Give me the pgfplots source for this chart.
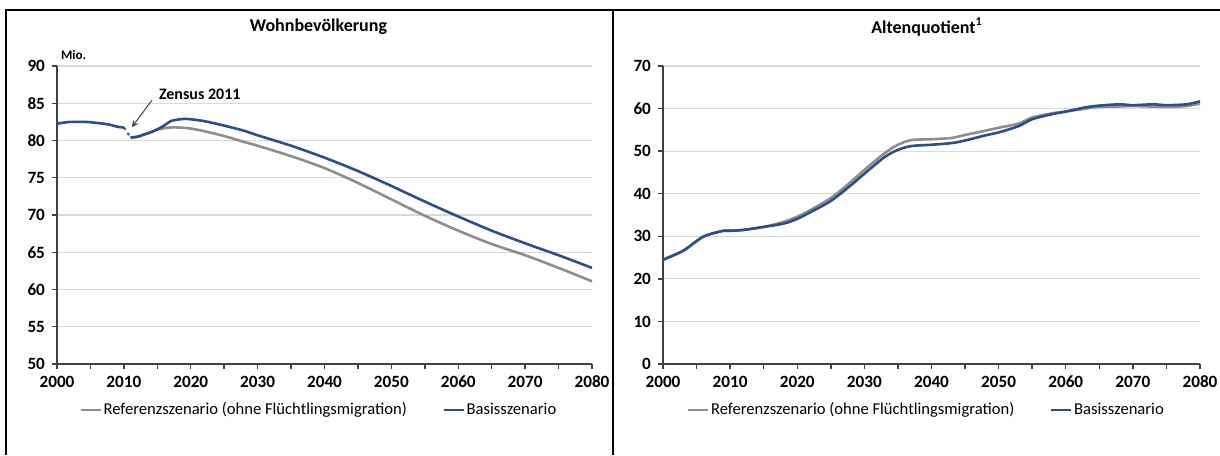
\documentclass[border=0pt]{standalone}
\usepackage{fontspec}
\setmainfont{Carlito}
\usepackage{pgfplots}
\pgfplotsset{compat=1.18}
\definecolor{basis}{HTML}{2A4F8A}
\definecolor{refgray}{HTML}{8E8E8E}
\definecolor{gridgray}{HTML}{D9D9D9}
\definecolor{axgray}{HTML}{404040}

\pgfplotsset{panel/.style={
  scale only axis, width=267.5pt, height=149pt,
  axis x line*=bottom, axis y line*=left,
  axis line style={axgray, line width=0.7pt},
  xmin=2000, xmax=2080,
  xtick={2000,2010,...,2080}, minor xtick={2005,2015,...,2075},
  tick align=outside, tick style={axgray, line width=0.7pt},
  major tick length=2.5pt, minor tick length=2.5pt,
  ymajorgrids, grid style={gridgray, line width=0.6pt},
  xticklabel style={/pgf/number format/1000 sep=},
  /pgf/number format/assume math mode=true,
  tick label style={font=\bfseries\fontsize{8.6}{9}\selectfont, text=black},
  legend style={draw=none, fill=none, at={(0.489,-0.155)}, anchor=center,
    legend columns=2, font=\fontsize{8.3}{9}\selectfont,
    nodes={inner xsep=0.8pt},
    /tikz/every even column/.append style={column sep=17pt}},
  legend image code/.code={\draw[##1] (0pt,0pt) -- (10pt,0pt);},
  every axis plot/.append style={line width=1.3pt, mark=none, smooth},
  clip=false,
}}

\begin{document}
\begin{tikzpicture}
\useasboundingbox (0,0) rectangle (610pt,227.5pt);
% frame
\draw[line width=1pt] (3pt,0) -- (3pt,222.5pt) -- (610pt,222.5pt);
\draw[line width=1pt] (306.5pt,0) -- (306.5pt,222.5pt);

% titles
\node[font=\bfseries\fontsize{9}{10}\selectfont] at (159.25pt,214pt) {Wohnbevölkerung};
\node[font=\bfseries\fontsize{9}{10}\selectfont] at (463.5pt,214pt) {Altenquotient\textsuperscript{1}};

\begin{axis}[panel, at={(28.5pt,45.5pt)}, anchor=south west,
  ymin=50, ymax=90, ytick={50,55,...,90}]
\addplot[refgray] coordinates {(2011,80.4) (2012,80.5) (2013,80.8) (2014,81.1)
  (2015,81.45) (2016,81.65) (2017,81.75) (2018,81.75) (2019,81.7) (2020,81.6)
  (2022,81.25) (2025,80.6) (2028,79.8) (2030,79.3) (2035,77.9) (2040,76.3)
  (2045,74.3) (2050,72.1) (2055,69.9) (2060,67.9) (2065,66.1) (2070,64.6)
  (2075,62.9) (2080,61.1)};
\addplot[basis] coordinates {(2011,80.4) (2012,80.5) (2013,80.8) (2014,81.1)
  (2015,81.5) (2016,82.0) (2017,82.6) (2018,82.8) (2019,82.9) (2020,82.85)
  (2022,82.6) (2025,82.0) (2028,81.3) (2030,80.7) (2035,79.3) (2040,77.7)
  (2045,75.9) (2050,73.9) (2055,71.8) (2060,69.8) (2065,67.9) (2070,66.2)
  (2075,64.6) (2080,62.9)};
\addplot[basis, forget plot] coordinates {(2000,82.25) (2001,82.4) (2002,82.5)
  (2003,82.5) (2004,82.5) (2005,82.45) (2006,82.35) (2007,82.25) (2008,82.1)
  (2009,81.85) (2010,81.75)};
\addplot[basis, dotted, line width=1pt, forget plot] coordinates {(2010,81.75) (2011,80.4)};
\legend{Referenzszenario (ohne Flüchtlingsmigration), Basisszenario}
\node[anchor=west, font=\bfseries\fontsize{6.5}{7}\selectfont, xshift=-1.5pt, yshift=5.5pt]
  at (rel axis cs:0,1) {Mio.};
\node[anchor=west, font=\bfseries\fontsize{8}{9}\selectfont] at (axis cs:2014.2,86.2) {Zensus 2011};
\draw[axgray, line width=0.5pt, -stealth] (axis cs:2014.2,85.4) -- (axis cs:2011.2,81.8);
\end{axis}

\begin{axis}[panel, at={(331.5pt,45.5pt)}, anchor=south west, width=268.5pt,
  ymin=0, ymax=70, ytick={0,10,...,70},
  legend style={at={(0.49,-0.155)}}]
\addplot[refgray] coordinates {(2000,24.5) (2003,26.6) (2006,29.9) (2009,31.3)
  (2010,31.3) (2012,31.5) (2015,32.2) (2018,33.4) (2020,34.6) (2022,36.2)
  (2025,39.0) (2028,42.8) (2030,45.6) (2033,49.5) (2035,51.5) (2037,52.6)
  (2040,52.8) (2043,53.1) (2045,53.8) (2048,54.8) (2050,55.5) (2053,56.5)
  (2055,57.9) (2058,58.9) (2060,59.3) (2063,60.0) (2065,60.4) (2068,60.5)
  (2070,60.6) (2075,60.4) (2078,60.6) (2080,61.2)};
\addplot[basis] coordinates {(2000,24.5) (2003,26.6) (2006,29.9) (2009,31.3)
  (2010,31.3) (2012,31.5) (2015,32.2) (2018,33.0) (2020,34.1) (2022,35.7)
  (2025,38.3) (2028,42.0) (2030,44.7) (2033,48.6) (2035,50.3) (2037,51.2)
  (2040,51.5) (2043,51.9) (2045,52.5) (2048,53.7) (2050,54.4) (2053,55.9)
  (2055,57.5) (2058,58.7) (2060,59.3) (2063,60.3) (2065,60.7) (2068,61.0)
  (2070,60.8) (2073,61.0) (2075,60.8) (2078,61.0) (2080,61.7)};
\legend{Referenzszenario (ohne Flüchtlingsmigration), Basisszenario}
\end{axis}
\end{tikzpicture}
\end{document}
